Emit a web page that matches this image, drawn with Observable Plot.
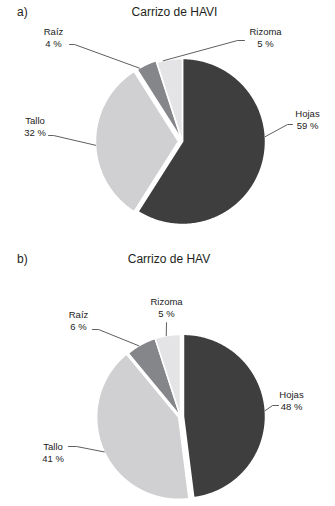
<!DOCTYPE html>
<html><head><meta charset="utf-8">
<script src="https://cdn.jsdelivr.net/npm/d3@7"></script>
<script src="https://cdn.jsdelivr.net/npm/@observablehq/plot@0.6"></script>
<style>
body{margin:0;background:#fff;font-family:"Liberation Sans",Arial,sans-serif;color:#231f20}
#wrap{position:relative;width:335px;height:506px;overflow:hidden;background:#fff}
.ttl{position:absolute;font-size:12px;line-height:14px;white-space:nowrap}
.plot{position:absolute;left:0}
</style></head><body><div id="wrap">
<div class="ttl" style="left:17px;top:5px">a)</div>
<div class="ttl" style="left:0;width:349px;text-align:center;top:5px">Carrizo de HAVI</div>
<div class="ttl" style="left:17px;top:252px">b)</div>
<div class="ttl" style="left:0;width:338px;text-align:center;top:252px">Carrizo de HAV</div>
<div class="plot" id="pa" style="top:20px"></div>
<div class="plot" id="pb" style="top:272px"></div>
</div>
<script>
// Data
const categories = ["Hojas", "Tallo", "Raíz", "Rizoma"];
const valuesHAVI = [59, 32, 4, 5];
const valuesHAV = [48, 41, 6, 5];
const colors = ["#3e3e3f", "#d0d0d2", "#858689", "#e4e4e6"];

// Layout (page pixel coordinates)
const layoutA = {
  top: 20, height: 230, cx: 182, cy: 141, r: 83, explode: [0, 4, 2, 0],
  leadAngle: [86.6, 267.4, 329.5, 346.5],
  elbow: [[287, 124], [53, 135], [74, 44], [237, 40]],
  tail: [[292, 124], [48, 135], [69, 44], [244, 40]],
  label: [[307, 128], [34.5, 135], [53, 46], [265, 46]]
};
const layoutB = {
  top: 272, height: 234, cx: 180, cy: 416, r: 82, explode: [3, 2, 0, 0],
  leadAngle: [86, 245, 329.5, 350],
  elbow: [[272, 405], [76, 446], [98, 329], [166, 322]],
  tail: [[278, 405], [68, 446], [92, 329], [166, 322]],
  label: [[291, 409], [52.5, 461], [78, 329], [166, 316]]
};

function pieChart(values, L) {
  const arcs = d3.pie().sort(null).value(d => d)(values);
  const pts = [], leads = [];
  arcs.forEach((a, i) => {
    const k = categories[i];
    const mid = (a.startAngle + a.endAngle) / 2, off = L.explode[i];
    const ox = L.cx + off * Math.sin(mid), oy = L.cy - off * Math.cos(mid);
    pts.push({k, x: ox, y: oy});
    const n = Math.max(2, Math.ceil((a.endAngle - a.startAngle) / 0.01));
    for (let j = 0; j <= n; j++) {
      const t = a.startAngle + (a.endAngle - a.startAngle) * j / n;
      pts.push({k, x: ox + L.r * Math.sin(t), y: oy - L.r * Math.cos(t)});
    }
    pts.push({k, x: ox, y: oy});
    const la = L.leadAngle[i] * Math.PI / 180;
    leads.push({k, x: ox + L.r * Math.sin(la), y: oy - L.r * Math.cos(la)});
    leads.push({k, x: L.elbow[i][0], y: L.elbow[i][1]});
    leads.push({k, x: L.tail[i][0], y: L.tail[i][1]});
  });
  return Plot.plot({
    width: 335, height: L.height,
    margin: 0,
    style: {fontFamily: "Liberation Sans, Arial, sans-serif", background: "transparent"},
    x: {domain: [0, 335], range: [0, 335], axis: null},
    y: {domain: [L.top, L.top + L.height], range: [0, L.height], axis: null},
    color: {domain: categories, range: colors},
    marks: [
      Plot.line(pts, {x: "x", y: "y", z: "k", fill: "k", stroke: "white", strokeWidth: 1.5, curve: "linear-closed"}),
      Plot.line(leads, {x: "x", y: "y", z: "k", stroke: "#4d4d4d", strokeWidth: 0.9}),
      Plot.text(categories, {
        x: (d, i) => L.label[i][0], y: (d, i) => L.label[i][1],
        text: (d, i) => `${d}\n${values[i]} %`,
        textAnchor: "middle", lineAnchor: "bottom", lineHeight: 1.17,
        fontSize: 9.5, fill: "#222"
      })
    ]
  });
}

document.getElementById("pa").append(pieChart(valuesHAVI, layoutA));
document.getElementById("pb").append(pieChart(valuesHAV, layoutB));
</script>
</body></html>
